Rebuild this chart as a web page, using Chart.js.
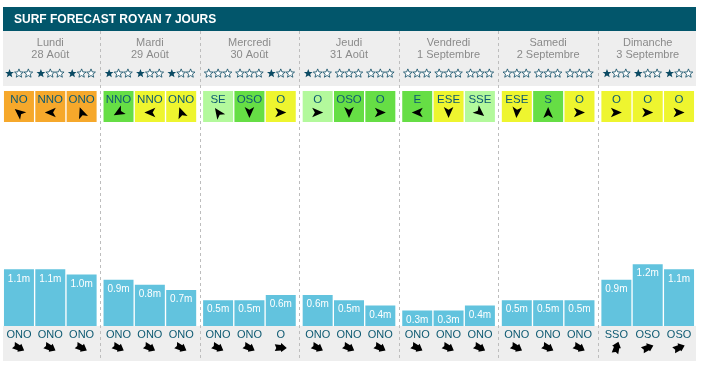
<!DOCTYPE html>
<html><head><meta charset="utf-8">
<script src="https://cdn.jsdelivr.net/npm/chart.js@4"></script>
<style>html,body{margin:0;padding:0;background:#fff;overflow:hidden}</style>
</head><body>
<canvas id="c" width="703" height="368"></canvas>
<script>
const title = 'SURF FORECAST ROYAN 7 JOURS';
const days = ['Lundi','Mardi','Mercredi','Jeudi','Vendredi','Samedi','Dimanche'];
const dates = ['28 Août','29 Août','30 Août','31 Août','1 Septembre','2 Septembre','3 Septembre'];
// 3 forecast slots per day, 21 values in day order
const waveHeights = [1.1,1.1,1.0, 0.9,0.8,0.7, 0.5,0.5,0.6, 0.6,0.5,0.4, 0.3,0.3,0.4, 0.5,0.5,0.5, 0.9,1.2,1.1];
const starRating = [1,1,1, 1,1,1, 0,0,1, 1,0,0, 0,0,0, 0,0,0, 1,1,1];
const windDir = ['NO','NNO','ONO', 'NNO','NNO','ONO', 'SE','OSO','O', 'O','OSO','O', 'E','ESE','SSE', 'ESE','S','O', 'O','O','O'];
const windQuality = ['o','o','o', 'g','y','y', 'l','g','y', 'l','g','g', 'g','y','l', 'y','g','y', 'y','y','y'];
const windArrowDeg = [-140,180,-110, 150,180,-110, -125,90,0, 0,90,0, 180,90,40, 95,-90,0, 0,0,0];
const swellDir = ['ONO','ONO','ONO', 'ONO','ONO','ONO', 'ONO','ONO','O', 'ONO','ONO','ONO', 'ONO','ONO','ONO', 'ONO','ONO','ONO', 'SSO','OSO','OSO'];
const swellArrowDeg = [25,25,25, 25,25,25, 25,25,0, 25,25,25, 25,25,25, 25,25,25, -75,-25,-25];

const qualityColors = {o:'#f6a82b', g:'#66de45', y:'#eef52f', l:'#b3f99c'};
const FONT = '"Liberation Sans", Arial, sans-serif';
const TEAL = '#0e5a72';

function slot(d,k){ return d*3+k; }

function drawStar(ctx, cx, cy, filled){
  const R=4.6, r=2.0;
  ctx.beginPath();
  for(let i=0;i<10;i++){
    const a = -Math.PI/2 + i*Math.PI/5;
    const rad = i%2===0?R:r;
    const px = cx + rad*Math.cos(a), py = cy + rad*Math.sin(a);
    if(i===0) ctx.moveTo(px,py); else ctx.lineTo(px,py);
  }
  ctx.closePath();
  if(filled){ ctx.fillStyle='#0b4a63'; ctx.fill(); }
  else { ctx.fillStyle='#ffffff'; ctx.fill(); ctx.strokeStyle='#0b4a63'; ctx.lineWidth=0.8; ctx.stroke(); }
}

function drawWindArrow(ctx, cx, cy, deg){
  ctx.save(); ctx.translate(cx,cy); ctx.rotate(deg*Math.PI/180);
  ctx.beginPath();
  ctx.moveTo(5.5,0); ctx.lineTo(-5.5,-4.8); ctx.lineTo(-2.8,0); ctx.lineTo(-5.5,4.8); ctx.closePath();
  ctx.fillStyle='#000'; ctx.fill(); ctx.restore();
}

function drawSwellIcon(ctx, cx, cy, deg){
  ctx.save(); ctx.translate(cx,cy); ctx.rotate(deg*Math.PI/180);
  ctx.beginPath();
  ctx.moveTo(6,0.5); ctx.lineTo(0.5,-4.5); ctx.lineTo(0,-2.5); ctx.lineTo(-6,-3.2);
  ctx.lineTo(-4.5,0.5); ctx.lineTo(-6,3.5); ctx.lineTo(0,3); ctx.lineTo(0.5,4.5); ctx.closePath();
  ctx.fillStyle='#000'; ctx.fill(); ctx.restore();
}

const surfPlugin = {
  id:'surf',
  beforeDatasetsDraw(chart){
    const ctx = chart.ctx, ca = chart.chartArea, xs = chart.scales.x, ys = chart.scales.y;
    const L = 3, W = 693;
    ctx.save();
    // title bar
    ctx.fillStyle = '#02566b'; ctx.fillRect(L, 7, W, 24);
    ctx.fillStyle = '#fff'; ctx.font = 'bold 12px '+FONT; ctx.textBaseline='middle'; ctx.textAlign='left';
    ctx.fillText(title, 14, 19.5);
    // grey header & footer bands
    const base = ys.getPixelForValue(0);
    ctx.fillStyle = '#eeeeee';
    ctx.fillRect(L, ca.top, W, 55);
    ctx.fillRect(L, base, W, ca.bottom-base);
    // day dividers
    ctx.strokeStyle = '#bdbdbd'; ctx.lineWidth = 1; ctx.setLineDash([3,3]);
    for(let i=1;i<days.length;i++){
      const x = Math.round((xs.getPixelForValue(i-1)+xs.getPixelForValue(i))/2)+0.5;
      ctx.beginPath(); ctx.moveTo(x, ca.top); ctx.lineTo(x, ca.bottom); ctx.stroke();
    }
    ctx.setLineDash([]);
    // day headers
    ctx.fillStyle = '#8a8a8a'; ctx.font = '11px '+FONT; ctx.textAlign='center';
    days.forEach((d,i)=>{
      const x = xs.getPixelForValue(i);
      ctx.fillText(d, x, 42.5);
      ctx.fillText(dates[i], x, 54.5);
    });
    // per slot items
    for(let k=0;k<3;k++){
      const meta = chart.getDatasetMeta(k);
      meta.data.forEach((bar,d)=>{
        const s = slot(d,k);
        const cx = bar.x, w = bar.width;
        for(let j=0;j<3;j++) drawStar(ctx, cx-9.4+j*9.4, 73.5, j<starRating[s]);
        ctx.fillStyle = qualityColors[windQuality[s]];
        ctx.fillRect(cx-w/2, 91, w, 31);
        ctx.fillStyle = TEAL; ctx.font='11.5px '+FONT; ctx.textAlign='center'; ctx.textBaseline='middle';
        ctx.fillText(windDir[s], cx, 99.5);
        drawWindArrow(ctx, cx, 112.5, windArrowDeg[s]);
        ctx.fillStyle = TEAL; ctx.font='11px '+FONT;
        ctx.fillText(swellDir[s], cx, 334.5);
        drawSwellIcon(ctx, cx, 347.5, swellArrowDeg[s]);
      });
    }
    ctx.restore();
  },
  afterDatasetsDraw(chart){
    const ctx = chart.ctx;
    ctx.save();
    ctx.fillStyle='#fff'; ctx.font='10px '+FONT; ctx.textAlign='center'; ctx.textBaseline='middle';
    for(let k=0;k<3;k++){
      chart.getDatasetMeta(k).data.forEach((bar,d)=>{
        ctx.fillText(waveHeights[slot(d,k)].toFixed(1)+'m', bar.x, bar.y+9.5);
      });
    }
    ctx.restore();
  }
};

const datasets = [0,1,2].map(k=>({
  data: days.map((_,d)=>waveHeights[slot(d,k)]),
  backgroundColor:'#62c3de', borderWidth:0,
  categoryPercentage:0.944, barPercentage:0.957
}));

new Chart(document.getElementById('c'), {
  type:'bar',
  data:{labels:days, datasets},
  options:{
    responsive:false, animation:false, devicePixelRatio:1,
    layout:{padding:{left:0.5,right:5.5,top:31,bottom:7}},
    scales:{
      x:{display:false},
      y:{display:false, min:-0.6796, max:5.728}
    },
    plugins:{legend:{display:false}, tooltip:{enabled:false}}
  },
  plugins:[surfPlugin]
});
</script>
</body></html>
